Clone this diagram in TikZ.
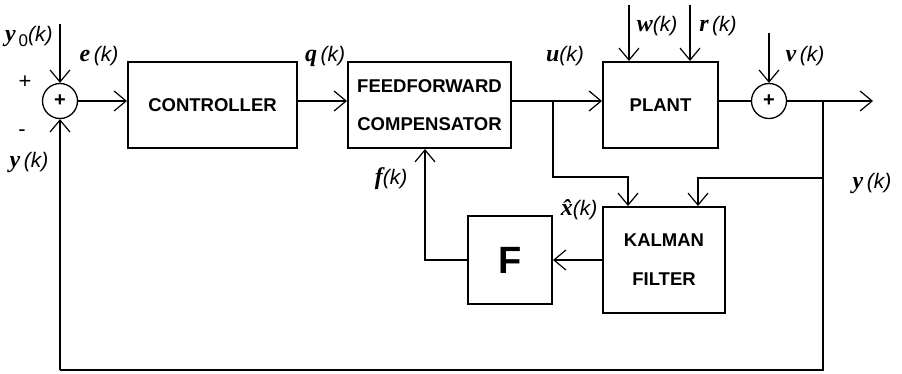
\documentclass[tikz,border=0pt]{standalone}
\usepackage{fontspec}
\setmainfont{Liberation Sans}
\newfontfamily\lserif{Liberation Serif}
\usetikzlibrary{arrows.meta}
\newcommand\sigl[1]{{\lserif\bfseries\itshape\fontsize{24}{24}\selectfont #1}}
\newcommand\kk{{\itshape (k)}}
\tikzset{
  blk/.style={draw, line width=2pt, font=\bfseries\fontsize{18.5}{22}\selectfont, align=center, inner sep=0pt},
  sumj/.style={draw, circle, line width=1.3pt, minimum size=35pt, inner sep=0pt, font=\bfseries\fontsize{20}{20}\selectfont},
  wire/.style={line width=1.2pt},
  arr/.style={wire, -{Straight Barb[length=12pt,width=20pt,line width=1.2pt]}},
  lab/.style={font=\fontsize{21}{23}\selectfont, inner sep=0pt},
}
\begin{document}
\begin{tikzpicture}[x=1pt,y=-1pt]
\useasboundingbox (0,0) rectangle (902,374);
% blocks
\node[blk, minimum width=169pt, minimum height=86pt] (ctrl) at (212.5,105) {CONTROLLER};
\node[blk, minimum width=163pt, minimum height=86pt] (ff) at (429.5,105) {FEEDFORWARD\\[16pt]COMPENSATOR};
\node[blk, minimum width=115pt, minimum height=86pt] (plant) at (660.5,105) {PLANT};
\node[blk, minimum width=122pt, minimum height=106pt] (kal) at (664,260) {KALMAN\\[17pt]FILTER};
\node[blk, minimum width=84pt, minimum height=88pt, font=\bfseries\fontsize{38}{38}\selectfont] (F) at (510,260) {F};
\node[sumj] (s1) at (60,101) {+};
\node[sumj] (s2) at (769,101) {+};
% coordinates
\coordinate (y0in) at (60,24);
\coordinate (win) at (629,5);
\coordinate (rin) at (690,5);
\coordinate (vin) at (769,33);
\coordinate (out) at (873,101);
\coordinate (ub) at (553,101);
\coordinate (yb) at (823,101);
\coordinate (bl) at (60,370);
\coordinate (br) at (823,370);
% connectors
\draw[arr] (y0in) -- (s1.north);
\draw[arr] (s1.east) -- (ctrl.west |- s1.east);
\draw[arr] (ctrl.east |- s1.east) -- (ff.west |- s1.east);
\draw[arr] (ff.east |- s1.east) -- (plant.west |- s1.east);
\draw[wire] (plant.east |- s2.west) -- (s2.west);
\draw[arr] (s2.east) -- (out);
\draw[arr] (win) -- (win |- plant.north);
\draw[arr] (rin) -- (rin |- plant.north);
\draw[arr] (vin) -- (s2.north);
\draw[arr] (ub) -- (553,177) -- (628,177) -- (628,0 |- kal.north);
\draw[arr] (yb) -- (823,178) -- (698,178) -- (698,0 |- kal.north);
\draw[wire] (yb) -- (br) -- (bl);
\draw[arr] (bl) -- (s1.south);
\draw[arr] (kal.west |- F.east) -- (F.east);
\draw[arr] (F.west) -- (425,260) -- (425,0 |- ff.south);
% labels
\node[lab, anchor=west] at (5,36) {\sigl{y}\raisebox{-5pt}{\fontsize{17}{17}\selectfont\,0}\kk};
\node[lab] at (99,56) {\sigl{e}\,\kk};
\node[lab, font=\fontsize{22}{22}\selectfont] at (25,82) {+};
\node[lab, font=\fontsize{22}{22}\selectfont] at (22,133) {-};
\node[lab] at (29,162) {\sigl{y}\,\kk};
\node[lab] at (325,56) {\sigl{q}\,\kk};
\node[lab] at (565,56) {\sigl{u}\kk};
\node[lab] at (657,26) {\sigl{w}\kk};
\node[lab] at (718,26) {\sigl{r}\,\kk};
\node[lab] at (805,56) {\sigl{v}\,\kk};
\node[lab] at (872,183) {\sigl{y}\,\kk};
\node[lab] at (391,179) {\sigl{f}\kk};
\node[lab] at (579,210) {\sigl{\^{x}}\kk};
\end{tikzpicture}
\end{document}
